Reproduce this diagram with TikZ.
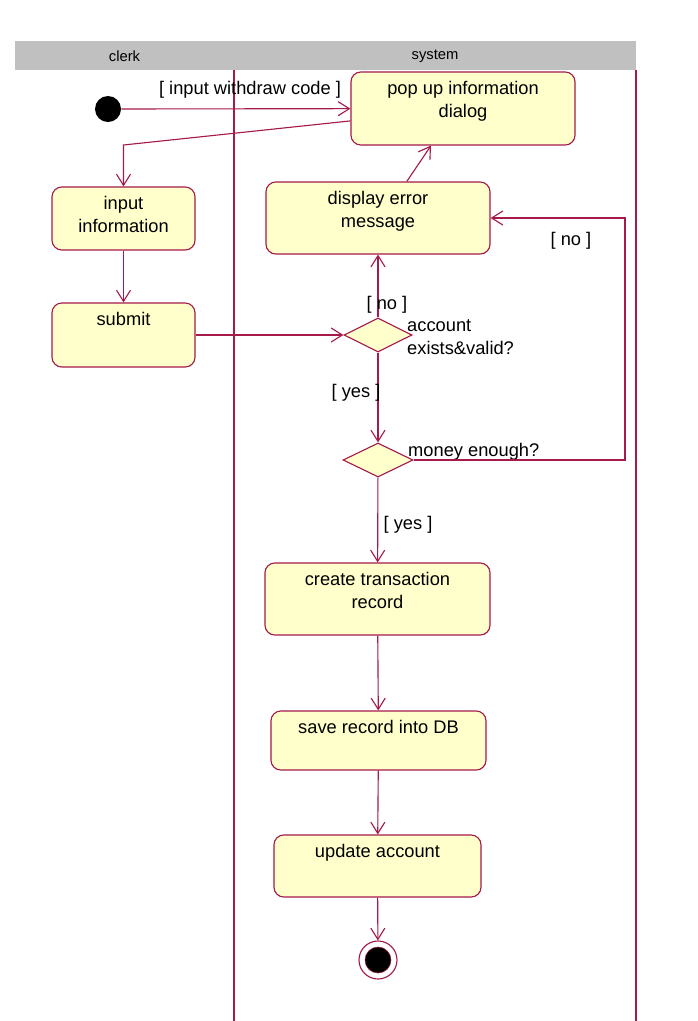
\documentclass[tikz,border=0pt]{standalone}
\usepackage{fontspec}
\setmainfont{Liberation Sans}
\usetikzlibrary{shapes.geometric,arrows.meta}
\definecolor{umlred}{RGB}{165,25,75}
\definecolor{umlfill}{RGB}{255,255,204}
\definecolor{lanegray}{RGB}{192,192,192}
\begin{document}
\begin{tikzpicture}[x=0.025cm,y=-0.025cm,
  every node/.style={font=\fontsize{13}{16.3}\selectfont},
  lanehead/.style={font=\fontsize{10.5}{12}\selectfont},
  lane/.style={draw=umlred,line width=0.8pt},
  act/.style={draw=umlred,fill=umlfill,line width=0.8pt,rounded corners=7pt,inner sep=0pt},
  acttext/.style={anchor=north,align=center,inner sep=0pt,yshift=-7pt},
  decision/.style={diamond,draw=umlred,fill=umlfill,line width=0.8pt,inner sep=0pt,minimum width=1.7cm,minimum height=0.85cm},
  flow/.style={draw=umlred,line width=0.8pt,-{Straight Barb[length=8pt,width=10pt]}}]
\useasboundingbox (0,0) rectangle (698,1021);

% swimlanes
\fill[lanegray] (15,41) rectangle (636,70);
\node[lanehead] (clerkhd) at (124.5,56) {clerk};
\node[lanehead] (systemhd) at (435,56) {system};
\draw[lane] (234,70) -- (234,1021);
\draw[lane] (636,70) -- (636,1021);

% states
\node[circle,fill=black,minimum size=0.65cm,inner sep=0pt] (init) at (108,109) {};
\node[act,minimum width=5.6cm,minimum height=1.825cm,label={[acttext]north:pop up information\\dialog}] (popup) at (463,108.5) {};
\node[act,minimum width=3.575cm,minimum height=1.575cm,label={[acttext]north:input\\information}] (info) at (123.5,218.5) {};
\node[act,minimum width=3.575cm,minimum height=1.6cm,label={[acttext]north:submit}] (submit) at (123.5,335) {};
\node[act,minimum width=5.6cm,minimum height=1.8cm,label={[acttext]north:display error\\message}] (disp) at (378,218) {};
\node[decision] (d1) at (378,335) {};
\node[decision,minimum width=1.75cm] (d2) at (378,460) {};
\node[act,minimum width=5.625cm,minimum height=1.8cm,label={[acttext]north:create transaction\\record}] (create) at (377.5,599) {};
\node[act,minimum width=5.375cm,minimum height=1.475cm,label={[acttext]north:save record into DB}] (save) at (378.5,740.5) {};
\node[act,minimum width=5.175cm,minimum height=1.55cm,label={[acttext]north:update account}] (update) at (377.5,866) {};
\node[circle,draw=umlred,fill=white,line width=0.8pt,minimum size=0.95cm,inner sep=0pt] (final) at (378,960) {};
\node[circle,draw=umlred,fill=black,minimum size=0.65cm,inner sep=0pt] (finaldot) at (final) {};

\node[anchor=west,align=left,inner sep=0pt] (d1txt) at ([xshift=-4pt,yshift=-1.5pt]d1.east) {account\\exists\&valid?};
\node[anchor=south west,inner sep=0pt] (d2txt) at ([xshift=-4pt,yshift=-0.5pt]d2.east) {money enough?};

% transitions
\draw[flow] (init) -- (popup);
\node (codeguard) at (250,90) {[ input withdraw code ]};
\coordinate (bend) at (123.5,145);
\draw[flow] ([yshift=-0.31cm]popup.west) -- (bend) -- (info.north);
\draw[flow] (info) -- (submit);
\draw[flow] (submit) -- (d1);
\draw[flow] (d1) -- (disp);
\node (noguard) at (387,305) {[ no ]};
\draw[flow] ([xshift=0.72cm]disp.north) -- ([xshift=-0.8cm]popup.south);
\draw[flow] (d1) -- (d2);
\node (yesguard) at (356,393) {[ yes ]};
\coordinate (noturn) at (625,340);
\draw[flow] (d2.east) -| (noturn) |- (disp.east);
\node (moneyno) at (571,241) {[ no ]};
\draw[flow] (d2) -- (create);
\node (moneyyes) at (408,525) {[ yes ]};
\draw[flow] (create) -- (save);
\draw[flow] (save) -- (update);
\draw[flow] (update) -- (final);
\end{tikzpicture}
\end{document}
